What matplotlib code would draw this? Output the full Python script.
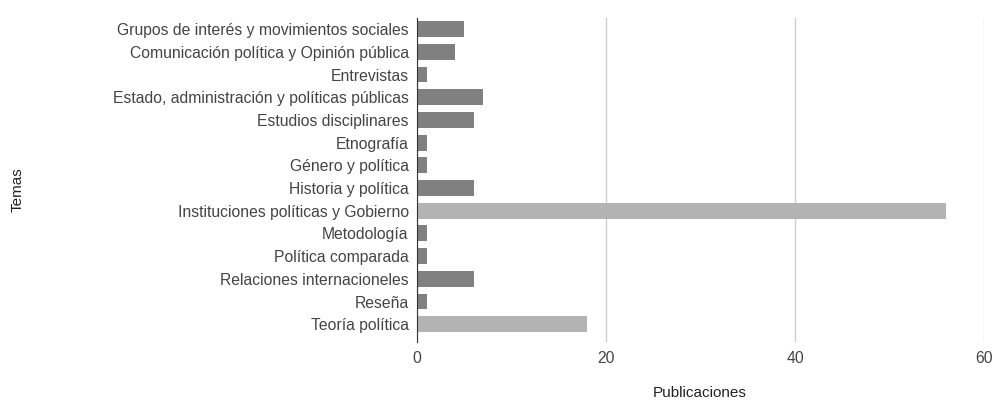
import matplotlib.pyplot as plt

plt.rcParams['font.family'] = ['Liberation Sans', 'DejaVu Sans']

temas = ['Grupos de interés y movimientos sociales',
         'Comunicación política y Opinión pública',
         'Entrevistas',
         'Estado, administración y políticas públicas',
         'Estudios disciplinares',
         'Etnografía',
         'Género y política',
         'Historia y política',
         'Instituciones políticas y Gobierno',
         'Metodología',
         'Política comparada',
         'Relaciones internacioneles',
         'Reseña',
         'Teoría política']
publicaciones = [5, 4, 1, 7, 6, 1, 1, 6, 56, 1, 1, 6, 1, 18]
destacados = ['Instituciones políticas y Gobierno', 'Teoría política']

dark = '#808080'
light = '#b3b3b3'
colores = [light if t in destacados else dark for t in temas]

fig = plt.figure(figsize=(9.93, 4.0), dpi=100)
ax = fig.add_axes([0.42, 0.144, 0.571, 0.8116])

y = range(len(temas))
ax.barh(y, publicaciones, height=0.7, color=colores, zorder=3)

ax.set_yticks(list(y))
ax.set_yticklabels(temas, fontsize=11.3, color='#444444')
ax.set_ylim(13.8, -0.5)
ax.set_xlim(0, 60)
ax.set_xticks([0, 20, 40, 60])
ax.tick_params(axis='x', labelsize=11.3, labelcolor='#444444', length=0, pad=6)
ax.tick_params(axis='y', length=0, pad=6)

ax.xaxis.grid(True, color='#cccccc', linewidth=1, zorder=0)
for s in ['top', 'right', 'bottom']:
    ax.spines[s].set_visible(False)
ax.spines['left'].set_color('#333333')
ax.spines['left'].set_zorder(4)

fig.text(0.705, 0.0175, 'Publicaciones', fontsize=11, color='#222222',
         ha='center', va='center')
fig.text(0.018, 0.525, 'Temas', rotation=90, fontsize=11, color='#222222',
         va='center', ha='center')

plt.savefig('out.png', dpi=100)
